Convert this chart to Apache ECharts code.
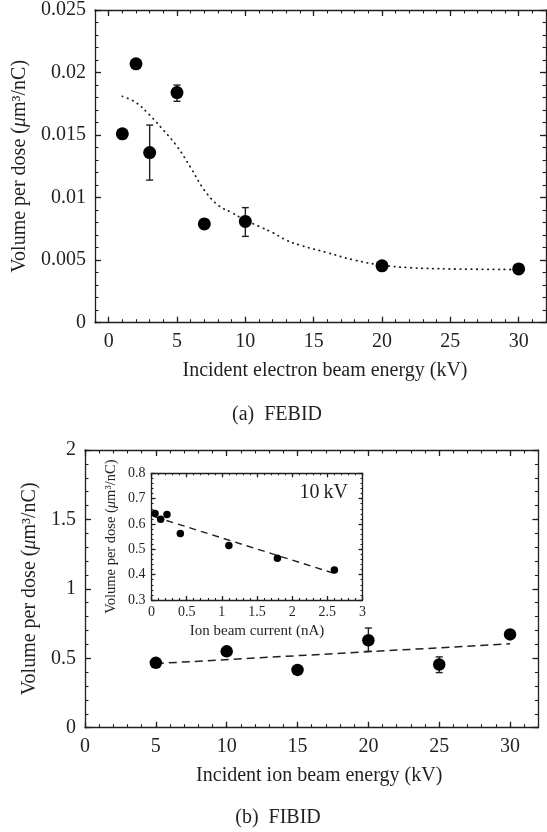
<!DOCTYPE html>
<html>
<head>
<meta charset="utf-8">
<title>Volume per dose: FEBID / FIBID</title>
<style>
  html, body { margin: 0; padding: 0; background: #fff; }
  #main { width: 547px; height: 832px; }
</style>
<script src="https://cdn.jsdelivr.net/npm/echarts@6/dist/echarts.min.js"></script>
</head>
<body>
<div id="main"></div>
<script>
// (a) FEBID - electron beam
const febidKv = [1, 2, 3, 5, 7, 10, 20, 30];
const febidVol = [0.0151, 0.0207, 0.0136, 0.0184, 0.0079, 0.0081, 0.00455, 0.0043];
const febidErrKv = [3, 5, 10];
const febidErrLow = [0.0114, 0.0177, 0.0069];
const febidErrHigh = [0.0158, 0.0190, 0.0092];
const febidFitKv = [1, 2, 3, 4, 5, 6, 7, 8, 9, 10, 11, 12, 13, 14, 16, 18, 20, 22, 25, 30];
const febidFitVol = [0.0181, 0.0176, 0.0166, 0.0154, 0.0141, 0.0124, 0.0106, 0.0094, 0.0088, 0.0082,
                     0.0077, 0.0072, 0.0066, 0.0062, 0.0056, 0.0050, 0.0046, 0.0044, 0.0043, 0.00425];
const febidXTicks = [0, 5, 10, 15, 20, 25, 30];
const febidYTicks = [0, 0.005, 0.01, 0.015, 0.02, 0.025];

// (b) FIBID - ion beam
const fibidKv = [5, 10, 15, 20, 25, 30];
const fibidVol = [0.467, 0.55, 0.416, 0.63, 0.455, 0.672];
const fibidErrKv = [20, 25];
const fibidErrLow = [0.55, 0.397];
const fibidErrHigh = [0.718, 0.51];
const fibidFitKv = [5, 30];
const fibidFitVol = [0.462, 0.604];
const fibidXTicks = [0, 5, 10, 15, 20, 25, 30];
const fibidYTicks = [0, 0.5, 1, 1.5, 2];

// inset: 10 kV, volume vs ion beam current
const currentNa = [0.05, 0.13, 0.22, 0.41, 1.1, 1.79, 2.6];
const insetVol = [0.641, 0.619, 0.637, 0.562, 0.515, 0.465, 0.418];
const insetFitNa = [0.05, 2.6];
const insetFitVol = [0.628, 0.405];
const insetXTicks = [0, 0.5, 1, 1.5, 2, 2.5, 3];
const insetYTicks = [0.3, 0.4, 0.5, 0.6, 0.7, 0.8];

const ink = '#231f20';
const serif = 'Liberation Serif';
const volName = 'Volume per dose ({it|\u03bc}m\u00b3/nC)';

function pairs(xs, ys) {
    return xs.map(function (x, i) { return [x, ys[i]]; });
}

// four-sided frame: main axis (labels) + mirrored axis, each with its own minor-tick axis
function frame(dim, grid, min, max, majors, minorStep, o) {
    const sides = dim === 'x' ? ['bottom', 'top'] : ['left', 'right'];
    const out = [];
    sides.forEach(function (side, k) {
        out.push({
            type: 'value', gridIndex: grid, position: side, min: min, max: max,
            name: k === 0 ? o.name : '',
            nameLocation: 'middle',
            nameGap: o.nameGap,
            nameTextStyle: {
                color: ink, fontFamily: serif, fontSize: o.nameSize, padding: o.namePad || 0,
                rich: { it: { fontStyle: 'italic', fontFamily: serif, fontSize: o.nameSize, color: ink } }
            },
            axisLine: { show: true, onZero: false, lineStyle: { color: ink, width: 1.3 } },
            axisTick: { show: true, inside: true, length: o.major, customValues: majors,
                        lineStyle: { color: ink, width: 1.3 } },
            axisLabel: { show: k === 0, customValues: majors, margin: o.margin,
                         color: ink, fontFamily: serif, fontSize: o.labelSize },
            splitLine: { show: false }
        });
        out.push({
            type: 'value', gridIndex: grid, position: side, min: min, max: max, interval: minorStep,
            axisLine: { show: false, onZero: false },
            axisTick: { show: true, inside: true, length: o.minor, lineStyle: { color: ink, width: 1.1 } },
            axisLabel: { show: false },
            splitLine: { show: false }
        });
    });
    return out;
}

function errorBars(xAxisIndex, xs, lo, hi, cap) {
    return {
        type: 'custom', xAxisIndex: xAxisIndex, yAxisIndex: xAxisIndex, z: 3,
        data: xs.map(function (x, i) { return [x, lo[i], hi[i]]; }),
        encode: { x: 0, y: [1, 2] },
        renderItem: function (params, api) {
            const top = api.coord([api.value(0), api.value(2)]);
            const bot = api.coord([api.value(0), api.value(1)]);
            const st = { stroke: ink, lineWidth: 1.4 };
            return {
                type: 'group',
                children: [
                    { type: 'line', shape: { x1: top[0], y1: top[1], x2: bot[0], y2: bot[1] }, style: st },
                    { type: 'line', shape: { x1: top[0] - cap, y1: top[1], x2: top[0] + cap, y2: top[1] }, style: st },
                    { type: 'line', shape: { x1: bot[0] - cap, y1: bot[1], x2: bot[0] + cap, y2: bot[1] }, style: st }
                ]
            };
        }
    };
}

const bigAxis = { labelSize: 20, nameSize: 20, major: 6, minor: 3.5, margin: 9 };

let myChart = echarts.init(document.getElementById('main'));

let option = {
    animation: false,
    backgroundColor: '#fff',
    grid: [
        { left: 95, top: 9.2, width: 451, height: 313.5 },
        { left: 85, top: 450, width: 453.4, height: 277.7 },
        { left: 151.5, top: 473.3, width: 211, height: 126.7 }
    ],
    xAxis: [].concat(
        frame('x', 0, -1, 32, febidXTicks, 1, Object.assign({}, bigAxis,
            { name: 'Incident electron beam energy (kV)', nameGap: 38, namePad: [0, 0, 0, 9] })),
        frame('x', 1, 0, 32, fibidXTicks, 1, Object.assign({}, bigAxis,
            { name: 'Incident ion beam energy (kV)', nameGap: 38, namePad: [0, 0, 0, 15] })),
        frame('x', 2, 0, 3, insetXTicks, 0.1,
            { name: 'Ion beam current (nA)', nameGap: 24, nameSize: 15, labelSize: 14,
              major: 4, minor: 2, margin: 5 })
    ),
    yAxis: [].concat(
        frame('y', 0, 0, 0.025, febidYTicks, 0.001, Object.assign({}, bigAxis,
            { name: volName, nameGap: 63 })),
        frame('y', 1, 0, 2, fibidYTicks, 0.1, Object.assign({}, bigAxis,
            { name: volName, nameGap: 45 })),
        frame('y', 2, 0.3, 0.8, insetYTicks, 0.02,
            { name: volName, nameGap: 33, nameSize: 14.5, labelSize: 14,
              major: 4, minor: 2, margin: 6 })
    ),
    graphic: [
        { type: 'text', x: 277, y: 415,
          style: { text: '(a)  FEBID', font: '20px "Liberation Serif"', fill: ink, align: 'center', verticalAlign: 'middle' } },
        { type: 'text', x: 278, y: 818,
          style: { text: '(b)  FIBID', font: '20px "Liberation Serif"', fill: ink, align: 'center', verticalAlign: 'middle' } },
        { type: 'text', x: 348, y: 493, z: 10,
          style: { text: '10\u2009kV', font: '20px "Liberation Serif"', fill: ink, align: 'right', verticalAlign: 'middle' } }
    ],
    series: [
        {
            type: 'line', xAxisIndex: 0, yAxisIndex: 0, smooth: 0.4, symbol: 'none',
            data: pairs(febidFitKv, febidFitVol),
            lineStyle: { color: ink, width: 1.8, type: [0.5, 5], cap: 'round' }
        },
        errorBars(0, febidErrKv, febidErrLow, febidErrHigh, 3.5),
        {
            type: 'scatter', xAxisIndex: 0, yAxisIndex: 0, z: 4, symbol: 'circle', symbolSize: 13,
            data: pairs(febidKv, febidVol), itemStyle: { color: '#000', opacity: 1 }
        },
        {
            type: 'line', xAxisIndex: 4, yAxisIndex: 4, symbol: 'none',
            data: pairs(fibidFitKv, fibidFitVol),
            lineStyle: { color: ink, width: 1.5, type: [8, 5] }
        },
        errorBars(4, fibidErrKv, fibidErrLow, fibidErrHigh, 3.5),
        {
            type: 'scatter', xAxisIndex: 4, yAxisIndex: 4, z: 4, symbol: 'circle', symbolSize: 12.5,
            data: pairs(fibidKv, fibidVol), itemStyle: { color: '#000', opacity: 1 }
        },
        {
            type: 'line', xAxisIndex: 8, yAxisIndex: 8, symbol: 'none',
            data: pairs(insetFitNa, insetFitVol),
            lineStyle: { color: ink, width: 1.4, type: [7, 5] }
        },
        {
            type: 'scatter', xAxisIndex: 8, yAxisIndex: 8, z: 4, symbol: 'circle', symbolSize: 7.5,
            data: pairs(currentNa, insetVol), itemStyle: { color: '#000', opacity: 1 }
        }
    ]
};

myChart.setOption(option);
</script>
</body>
</html>
